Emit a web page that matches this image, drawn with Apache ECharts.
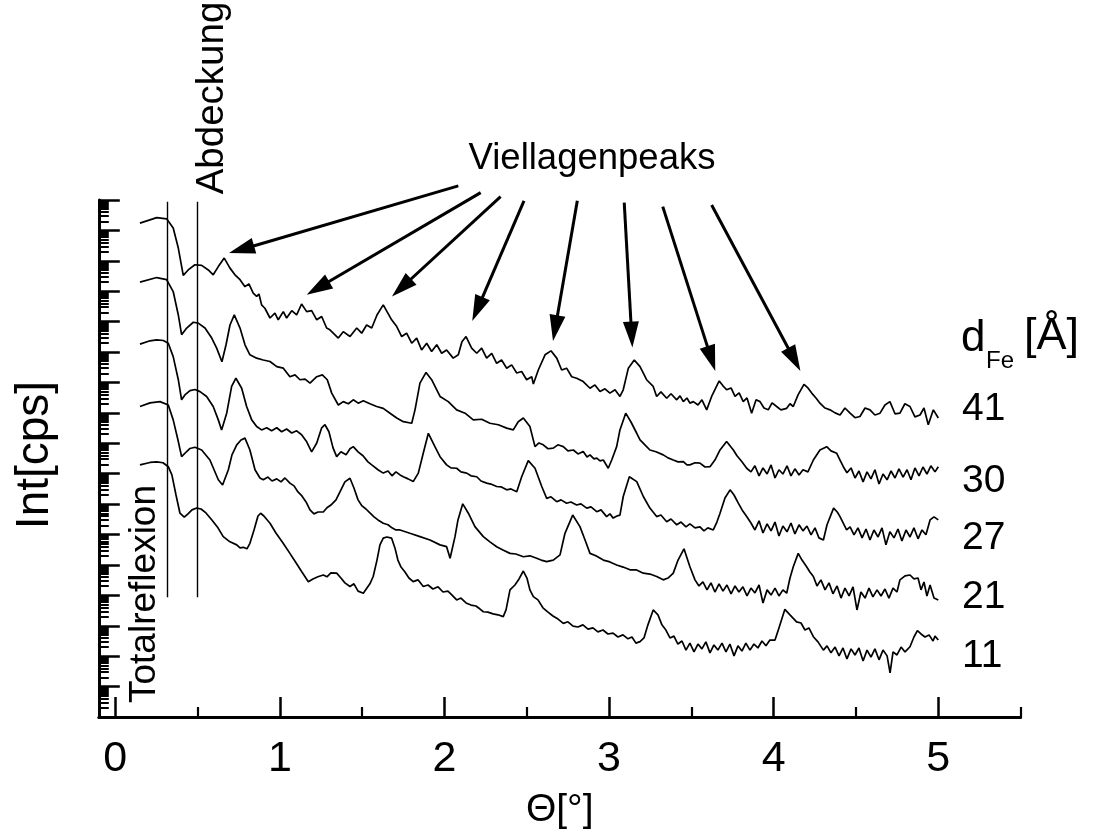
<!DOCTYPE html>
<html><head><meta charset="utf-8">
<script src="https://cdn.jsdelivr.net/npm/echarts@6/dist/echarts.min.js"></script>
<style>html,body{margin:0;padding:0;background:#fff}#c{width:1093px;height:835px}</style>
</head><body><div id="c"></div>
<script>
// x: Theta in degrees; y: log10 intensity in decades above the axis bottom (curves are offset)
const xMajorTicks = [0, 1, 2, 3, 4, 5];
const xMinorTicks = [0.5, 1.5, 2.5, 3.5, 4.5, 5.5];
const yDecades = [0,1,2,3,4,5,6,7,8,9,10,11,12,13,14,15,16,17];
const yMinorFactors = [2,3,4,5,6,7,8,9];
const curveNames = ['41', '30', '27', '21', '11'];

const d41 = [[0.150,16.24],[0.252,16.42],[0.312,16.38],[0.352,16.08],[0.383,15.42],[0.413,14.52],[0.443,14.70],[0.484,14.87],[0.525,14.85],[0.565,14.70],[0.595,14.54],[0.626,14.81],[0.662,15.09],[0.697,14.76],[0.727,14.54],[0.758,14.38],[0.788,14.15],[0.812,14.24],[0.838,13.94],[0.859,13.83],[0.873,13.91],[0.889,13.55],[0.909,13.44],[0.940,13.12],[0.970,13.28],[0.990,13.06],[1.021,13.33],[1.041,13.12],[1.072,13.36],[1.102,13.22],[1.132,13.58],[1.163,13.33],[1.193,13.36],[1.224,13.06],[1.254,13.17],[1.284,12.79],[1.304,12.73],[1.355,12.46],[1.385,12.67],[1.426,12.51],[1.467,12.79],[1.497,12.62],[1.527,12.89],[1.558,12.79],[1.590,13.22],[1.628,13.55],[1.679,13.06],[1.710,12.84],[1.740,12.51],[1.770,12.62],[1.801,12.29],[1.831,12.46],[1.861,12.07],[1.892,12.29],[1.922,12.02],[1.953,12.24],[1.983,11.96],[2.013,12.07],[2.053,11.80],[2.084,11.91],[2.106,12.34],[2.131,12.51],[2.165,12.13],[2.196,11.96],[2.226,12.13],[2.256,11.80],[2.287,11.96],[2.317,11.63],[2.347,11.74],[2.378,11.47],[2.408,11.58],[2.439,11.31],[2.469,11.36],[2.499,11.09],[2.530,11.19],[2.540,10.95],[2.570,11.41],[2.611,11.91],[2.647,12.04],[2.682,11.80],[2.712,11.41],[2.742,11.47],[2.773,11.19],[2.803,11.14],[2.843,11.03],[2.884,10.81],[2.914,10.92],[2.945,10.70],[2.975,10.79],[3.005,10.65],[3.036,10.76],[3.066,10.54],[3.086,10.76],[3.117,11.47],[3.153,11.74],[3.188,11.52],[3.228,11.09],[3.268,10.87],[3.289,10.54],[3.315,10.69],[3.350,10.48],[3.376,10.63],[3.411,10.43],[3.431,10.56],[3.451,10.37],[3.473,10.49],[3.491,10.32],[3.512,10.37],[3.540,10.26],[3.564,10.43],[3.593,10.10],[3.623,10.54],[3.669,11.05],[3.692,10.89],[3.714,10.76],[3.741,10.82],[3.765,10.54],[3.790,10.66],[3.815,10.37],[3.838,10.49],[3.866,9.99],[3.893,10.43],[3.917,10.37],[3.941,10.16],[3.967,10.10],[3.990,10.33],[4.018,10.21],[4.044,10.10],[4.079,10.15],[4.099,10.30],[4.119,10.21],[4.148,10.59],[4.184,10.94],[4.208,10.82],[4.231,10.65],[4.257,10.49],[4.281,10.32],[4.312,10.16],[4.342,10.10],[4.373,10.00],[4.403,9.93],[4.433,10.16],[4.464,9.99],[4.494,9.84],[4.524,9.88],[4.555,10.16],[4.585,10.10],[4.615,9.93],[4.646,9.99],[4.676,10.26],[4.706,10.37],[4.737,9.97],[4.767,9.99],[4.797,10.30],[4.828,10.21],[4.858,9.87],[4.889,9.93],[4.913,10.16],[4.939,9.61],[4.970,10.10],[5.000,9.83]];

const d30 = [[0.150,14.30],[0.252,14.45],[0.312,14.38],[0.352,13.99],[0.383,13.22],[0.403,12.57],[0.434,12.79],[0.474,12.98],[0.504,12.95],[0.545,12.79],[0.586,12.46],[0.616,12.13],[0.648,11.68],[0.673,12.24],[0.697,12.89],[0.723,13.22],[0.758,12.79],[0.788,12.24],[0.818,11.91],[0.859,11.80],[0.899,11.74],[0.940,11.69],[0.981,11.52],[1.021,11.47],[1.061,11.19],[1.092,11.25],[1.122,11.09],[1.153,11.11],[1.183,10.98],[1.224,11.19],[1.258,11.25],[1.288,11.09],[1.315,10.65],[1.355,10.26],[1.385,10.37],[1.416,10.30],[1.446,10.43],[1.476,10.32],[1.507,10.40],[1.547,10.30],[1.588,10.21],[1.628,10.15],[1.669,9.99],[1.710,9.83],[1.750,9.71],[1.801,9.66],[1.821,10.10],[1.851,10.98],[1.888,11.33],[1.922,11.09],[1.973,10.54],[2.023,10.37],[2.074,10.10],[2.125,9.99],[2.175,9.77],[2.226,9.79],[2.276,9.66],[2.327,9.61],[2.378,9.50],[2.418,9.44],[2.448,9.71],[2.479,9.83],[2.519,9.55],[2.550,8.89],[2.574,9.01],[2.600,8.95],[2.629,8.82],[2.661,8.84],[2.689,8.95],[2.722,8.89],[2.750,8.75],[2.783,8.78],[2.811,8.65],[2.843,8.73],[2.866,8.55],[2.884,8.62],[2.908,8.49],[2.925,8.51],[2.945,8.42],[2.965,8.45],[2.995,8.18],[3.016,8.45],[3.046,8.89],[3.066,9.44],[3.101,9.99],[3.133,9.70],[3.168,9.33],[3.188,9.11],[3.228,8.89],[3.248,8.78],[3.285,8.72],[3.329,8.62],[3.358,8.52],[3.390,8.45],[3.419,8.39],[3.451,8.40],[3.473,8.29],[3.491,8.29],[3.522,8.36],[3.552,8.35],[3.583,8.22],[3.613,8.23],[3.643,8.45],[3.674,8.78],[3.714,9.06],[3.755,8.78],[3.777,8.59],[3.806,8.40],[3.836,8.18],[3.862,8.06],[3.886,8.26],[3.911,7.93],[3.935,8.19],[3.960,7.99],[3.984,8.29],[4.008,7.86],[4.032,8.13],[4.056,7.99],[4.081,8.26],[4.105,7.93],[4.129,8.16],[4.154,7.96],[4.178,8.13],[4.208,8.06],[4.241,8.45],[4.281,8.78],[4.322,8.89],[4.348,8.75],[4.383,8.67],[4.403,8.45],[4.423,8.23],[4.445,8.03],[4.470,8.19],[4.494,7.86],[4.518,8.09],[4.543,7.73],[4.567,8.06],[4.591,7.83],[4.615,8.13],[4.640,7.66],[4.664,7.99],[4.689,7.80],[4.713,8.09],[4.737,7.86],[4.761,8.16],[4.786,7.89],[4.810,8.13],[4.834,7.80],[4.858,8.19],[4.883,7.93],[4.907,8.22],[4.931,7.99],[4.955,8.26],[4.980,8.06],[5.000,8.23]];

const d27 = [[0.150,12.26],[0.211,12.37],[0.252,12.40],[0.292,12.38],[0.322,12.29],[0.352,11.85],[0.383,11.09],[0.403,10.43],[0.423,10.59],[0.454,10.73],[0.484,10.77],[0.515,10.70],[0.555,10.54],[0.595,10.21],[0.626,9.77],[0.646,9.44],[0.677,9.99],[0.707,10.87],[0.733,11.14],[0.768,10.81],[0.798,10.21],[0.829,9.77],[0.859,9.55],[0.889,9.44],[0.920,9.51],[0.950,9.41],[0.981,9.51],[1.011,9.38],[1.041,9.47],[1.072,9.34],[1.102,9.41],[1.132,9.28],[1.163,9.05],[1.193,8.72],[1.224,9.01],[1.254,9.51],[1.274,9.61],[1.298,9.38],[1.323,8.85],[1.345,8.56],[1.371,8.72],[1.402,8.62],[1.426,8.82],[1.446,8.89],[1.475,8.72],[1.505,8.59],[1.535,8.39],[1.566,8.26],[1.596,8.13],[1.628,8.02],[1.657,8.09],[1.681,7.93],[1.705,8.06],[1.730,7.96],[1.750,7.90],[1.779,7.83],[1.810,7.74],[1.841,8.02],[1.871,8.67],[1.902,9.33],[1.942,8.89],[1.973,8.56],[2.013,8.29],[2.039,8.19],[2.074,8.18],[2.100,8.06],[2.135,8.02],[2.161,7.93],[2.196,7.90],[2.222,7.76],[2.256,7.69],[2.282,7.66],[2.317,7.58],[2.343,7.57],[2.378,7.47],[2.404,7.50],[2.439,7.41],[2.469,7.90],[2.509,8.43],[2.550,8.18],[2.591,7.58],[2.621,7.19],[2.647,7.24],[2.682,7.08],[2.708,7.14],[2.742,7.03],[2.768,7.07],[2.803,6.97],[2.829,7.01],[2.864,6.87],[2.890,6.91],[2.925,6.75],[2.951,6.81],[2.985,6.59],[3.005,6.68],[3.025,6.54],[3.048,6.61],[3.066,6.64],[3.086,7.25],[3.123,7.90],[3.168,7.74],[3.208,7.25],[3.248,6.87],[3.289,6.59],[3.315,6.64],[3.350,6.42],[3.376,6.51],[3.411,6.32],[3.437,6.41],[3.467,6.25],[3.491,6.35],[3.522,6.22],[3.552,6.25],[3.576,6.12],[3.600,6.22],[3.633,6.15],[3.655,6.41],[3.674,6.70],[3.704,7.20],[3.735,7.47],[3.759,7.30],[3.785,7.03],[3.808,6.81],[3.836,6.59],[3.862,6.38],[3.886,6.15],[3.911,6.45],[3.935,6.05],[3.960,6.35],[3.984,6.12],[4.008,6.41],[4.032,5.95],[4.056,6.28],[4.081,6.09],[4.105,6.38],[4.129,6.02],[4.154,6.32],[4.178,6.12],[4.202,6.28],[4.227,5.99],[4.251,6.22],[4.275,5.89],[4.302,5.82],[4.324,6.32],[4.364,6.87],[4.386,6.74],[4.403,6.59],[4.443,6.15],[4.464,6.25],[4.488,5.99],[4.512,6.22],[4.537,5.89],[4.561,6.18],[4.585,5.82],[4.609,6.15],[4.634,5.92],[4.658,6.22],[4.682,5.66],[4.706,6.09],[4.731,5.89],[4.755,6.18],[4.779,5.79],[4.804,6.15],[4.828,5.92],[4.852,6.22],[4.877,5.86],[4.901,6.15],[4.925,5.99],[4.950,6.48],[4.974,6.58],[5.000,6.48]];

const d21 = [[0.150,10.21],[0.211,10.33],[0.272,10.37],[0.322,10.26],[0.352,9.77],[0.381,9.11],[0.403,8.56],[0.434,8.73],[0.454,8.83],[0.484,8.87],[0.525,8.78],[0.575,8.45],[0.626,7.80],[0.652,7.63],[0.687,8.13],[0.709,8.62],[0.738,8.95],[0.764,9.11],[0.788,9.17],[0.818,8.78],[0.849,8.13],[0.879,7.86],[0.899,7.80],[0.928,7.89],[0.952,7.76],[0.981,7.83],[1.007,7.73],[1.031,7.86],[1.061,7.69],[1.086,7.60],[1.110,7.40],[1.134,7.27],[1.159,7.07],[1.183,6.81],[1.207,6.68],[1.232,6.74],[1.264,6.74],[1.286,6.88],[1.310,6.97],[1.341,7.14],[1.365,7.40],[1.395,7.73],[1.426,7.85],[1.450,7.53],[1.475,7.14],[1.499,6.94],[1.523,6.84],[1.547,6.71],[1.572,6.58],[1.596,6.48],[1.628,6.37],[1.657,6.32],[1.681,6.22],[1.705,6.15],[1.730,6.15],[1.790,6.04],[1.851,5.93],[1.912,5.82],[1.973,5.66],[2.013,5.60],[2.034,5.22],[2.064,5.93],[2.082,6.48],[2.111,7.01],[2.145,6.70],[2.185,6.26],[2.236,5.93],[2.276,5.76],[2.317,5.60],[2.355,5.49],[2.398,5.38],[2.434,5.36],[2.479,5.27],[2.519,5.30],[2.560,5.22],[2.587,5.16],[2.621,5.11],[2.661,5.16],[2.702,5.33],[2.732,6.04],[2.779,6.64],[2.823,6.26],[2.854,5.82],[2.884,5.38],[2.920,5.30],[2.965,5.16],[3.005,5.10],[3.046,5.00],[3.085,4.93],[3.127,4.84],[3.164,4.84],[3.208,4.73],[3.248,4.70],[3.289,4.62],[3.329,4.51],[3.358,4.57],[3.390,4.73],[3.419,5.16],[3.455,5.53],[3.491,4.94],[3.522,4.51],[3.546,4.31],[3.570,4.44],[3.595,4.18],[3.619,4.41],[3.643,4.11],[3.668,4.38],[3.692,4.14],[3.716,4.34],[3.741,4.05],[3.765,4.31],[3.789,4.11],[3.813,4.28],[3.838,3.98],[3.862,4.24],[3.886,4.08],[3.911,4.34],[3.935,3.75],[3.960,4.18],[3.984,4.01],[4.008,4.24],[4.032,3.98],[4.056,4.18],[4.079,4.07],[4.099,4.57],[4.119,4.94],[4.149,5.38],[4.172,5.16],[4.200,4.94],[4.220,4.77],[4.241,4.62],[4.263,4.31],[4.287,4.51],[4.312,4.18],[4.336,4.41],[4.360,4.05],[4.385,4.31],[4.409,3.91],[4.433,4.24],[4.458,3.98],[4.482,4.28],[4.506,3.52],[4.530,4.11],[4.555,3.91],[4.579,4.24],[4.603,3.95],[4.628,4.18],[4.652,3.98],[4.676,4.21],[4.700,3.91],[4.725,4.24],[4.749,4.11],[4.767,4.51],[4.798,4.64],[4.828,4.67],[4.852,4.54],[4.877,4.57],[4.895,4.18],[4.913,4.44],[4.931,3.98],[4.950,4.34],[4.974,3.91],[5.000,3.85]];

const d11 = [[0.150,8.29],[0.211,8.37],[0.252,8.39],[0.290,8.36],[0.322,8.23],[0.344,7.96],[0.369,7.30],[0.393,6.70],[0.419,6.57],[0.442,6.68],[0.466,6.81],[0.495,6.87],[0.521,6.84],[0.551,6.71],[0.587,6.48],[0.624,6.22],[0.656,5.93],[0.697,5.76],[0.738,5.66],[0.758,5.56],[0.778,5.58],[0.800,5.53],[0.818,5.71],[0.843,6.15],[0.867,6.61],[0.883,6.70],[0.903,6.61],[0.940,6.37],[0.976,6.05],[1.019,5.72],[1.061,5.38],[1.098,5.07],[1.134,4.77],[1.173,4.45],[1.201,4.54],[1.231,4.61],[1.264,4.67],[1.286,4.61],[1.310,4.74],[1.345,4.73],[1.371,4.57],[1.395,4.41],[1.426,4.29],[1.450,4.38],[1.475,4.14],[1.507,4.07],[1.529,4.24],[1.547,4.38],[1.567,4.62],[1.590,5.16],[1.608,5.66],[1.628,5.88],[1.650,5.92],[1.679,5.88],[1.699,5.56],[1.717,5.16],[1.736,4.93],[1.760,4.77],[1.784,4.57],[1.810,4.45],[1.839,4.51],[1.871,4.29],[1.900,4.34],[1.930,4.21],[1.961,4.28],[1.991,4.11],[2.021,4.14],[2.046,4.01],[2.074,3.85],[2.100,3.91],[2.131,3.75],[2.161,3.68],[2.191,3.65],[2.216,3.55],[2.236,3.46],[2.264,3.45],[2.295,3.39],[2.325,3.36],[2.357,3.30],[2.374,3.52],[2.398,4.18],[2.428,4.34],[2.453,4.54],[2.479,4.80],[2.501,4.57],[2.519,4.18],[2.540,3.96],[2.568,3.85],[2.598,3.59],[2.629,3.45],[2.659,3.32],[2.690,3.22],[2.722,3.08],[2.750,3.13],[2.781,2.99],[2.811,2.96],[2.841,3.03],[2.872,2.89],[2.902,2.93],[2.932,2.80],[2.963,2.86],[2.993,2.73],[3.024,2.76],[3.054,2.63],[3.084,2.70],[3.115,2.57],[3.139,2.63],[3.163,2.43],[3.188,2.48],[3.212,2.60],[3.236,3.03],[3.268,3.52],[3.297,3.36],[3.321,3.03],[3.345,2.86],[3.370,2.60],[3.394,2.66],[3.418,2.40],[3.443,2.50],[3.467,2.20],[3.491,2.43],[3.516,2.14],[3.540,2.40],[3.564,2.24],[3.588,2.47],[3.613,2.11],[3.637,2.37],[3.661,2.20],[3.686,2.43],[3.710,2.14],[3.734,2.40],[3.759,2.01],[3.783,2.34],[3.807,2.17],[3.831,2.43],[3.856,2.20],[3.880,2.40],[3.904,2.27],[3.929,2.50],[3.953,2.34],[3.977,2.53],[4.008,2.53],[4.032,2.93],[4.068,3.54],[4.099,3.36],[4.139,3.13],[4.166,3.09],[4.190,2.86],[4.214,2.93],[4.241,2.64],[4.269,2.47],[4.302,2.20],[4.324,2.34],[4.348,2.11],[4.373,2.30],[4.397,2.01],[4.421,2.27],[4.445,1.91],[4.470,2.24],[4.494,2.04],[4.518,2.27],[4.543,1.84],[4.567,2.20],[4.591,1.97],[4.615,2.24],[4.640,1.88],[4.664,2.20],[4.689,2.01],[4.707,1.45],[4.725,2.14],[4.749,2.04],[4.774,2.30],[4.798,2.14],[4.828,2.31],[4.852,2.63],[4.873,2.84],[4.895,2.73],[4.919,2.63],[4.944,2.70],[4.968,2.50],[4.980,2.66],[5.000,2.53]];

const curves = [d41, d30, d27, d21, d11];

// annotation guides (same units; arrow tails may sit above the plot top, so they live in an overlay frame)
const guideX = [0.318, 0.500];
const guideY = [3.94, 16.95];
const arrowFrom = [[2.084,17.47],[2.220,17.25],[2.341,17.12],[2.483,16.98],[2.807,16.98],[3.092,16.92],[3.326,16.79],[3.623,16.84]];
const arrowTo   = [[0.767,15.38],[1.231,14.11],[1.739,14.12],[2.200,13.42],[2.673,12.79],[3.137,12.58],[3.621,11.79],[4.125,11.76]];

const FONT = "'Liberation Sans', Arial, Helvetica, sans-serif";
const yMinorTicks = [];
yDecades.slice(0, -1).forEach(n => yMinorFactors.forEach(k => yMinorTicks.push(n + Math.log10(k))));

const G = {left: 98.8, right: 72.4, top: 200, bottom: 118};
const X_RANGE = {min: -0.1, max: 5.5};
const Y_RANGE = {min: 0, max: 17};
const chart = echarts.init(document.getElementById('c'), null, {renderer: 'canvas'});

const lineSeries = curves.map((d, i) => ({
  name: curveNames[i], type: 'line', xAxisIndex: 0, yAxisIndex: 0,
  data: d, showSymbol: false, symbol: 'none', silent: true,
  lineStyle: {color: '#000', width: 1.7}, z: 3
}));

const guideSeries = {
  type: 'line', xAxisIndex: 4, yAxisIndex: 4, data: [], silent: true,
  markLine: {
    silent: true, symbol: ['none', 'none'], animation: false,
    label: {show: false},
    lineStyle: {color: '#000', width: 1.4, type: 'solid'},
    emphasis: {disabled: true},
    data: guideX.map(x => [{coord: [x, guideY[0]]}, {coord: [x, guideY[1]]}])
  }
};
const arrowSeries = {
  type: 'line', xAxisIndex: 4, yAxisIndex: 4, data: [], silent: true,
  markLine: {
    silent: true, symbol: ['none', 'triangle'], symbolSize: [16, 26], animation: false,
    label: {show: false},
    lineStyle: {color: '#000', width: 3, type: 'solid'},
    itemStyle: {color: '#000'},
    emphasis: {disabled: true},
    data: arrowFrom.map((p, i) => [{coord: p}, {coord: arrowTo[i]}])
  }
};

const txt = (text, x, y, size, rot, align) => ({
  type: 'text', x, y, rotation: rot || 0, silent: true,
  style: {text, fontSize: size, fontFamily: FONT, fill: '#000', align: align || 'center', verticalAlign: 'middle'}
});

const hiddenX = (g) => Object.assign({gridIndex: g, type: 'value', show: false}, X_RANGE);
const hiddenY = (g) => Object.assign({gridIndex: g, type: 'value', show: false}, Y_RANGE);

chart.setOption({
  animation: false,
  backgroundColor: '#fff',
  grid: [Object.assign({}, G), Object.assign({}, G), Object.assign({}, G), Object.assign({}, G),
         {left: G.left, right: G.right, top: 0, bottom: G.bottom}],
  xAxis: [
    hiddenX(0),
    // axis line + major ticks
    Object.assign({gridIndex: 1, type: 'value',
     axisLine: {show: true, onZero: false, lineStyle: {color: '#000', width: 3}},
     axisTick: {show: true, customValues: xMajorTicks, inside: true, length: 20, lineStyle: {color: '#000', width: 2.5}},
     axisLabel: {show: false}, splitLine: {show: false}}, X_RANGE),
    // minor ticks
    Object.assign({gridIndex: 2, type: 'value',
     axisLine: {show: false, onZero: false},
     axisTick: {show: true, customValues: xMinorTicks, inside: true, length: 10, lineStyle: {color: '#000', width: 2.2}},
     axisLabel: {show: false}, splitLine: {show: false}}, X_RANGE),
    // tick labels + title
    Object.assign({gridIndex: 3, type: 'value',
     axisLine: {show: false, onZero: false}, axisTick: {show: false},
     axisLabel: {customValues: xMajorTicks, fontSize: 43, color: '#000', fontFamily: FONT, margin: 28},
     splitLine: {show: false},
     name: 'Θ[°]', nameLocation: 'middle', nameGap: 81,
     nameTextStyle: {fontSize: 39, color: '#000', fontFamily: FONT}}, X_RANGE),
    {gridIndex: 4, type: 'value', min: X_RANGE.min, max: X_RANGE.max, show: false}
  ],
  yAxis: [
    hiddenY(0),
    Object.assign({gridIndex: 1, type: 'value',
     axisLine: {show: true, onZero: false, lineStyle: {color: '#000', width: 3}},
     axisTick: {show: true, customValues: yDecades, inside: true, length: 21, lineStyle: {color: '#000', width: 2.5}},
     axisLabel: {show: false}, splitLine: {show: false}}, Y_RANGE),
    Object.assign({gridIndex: 2, type: 'value',
     axisLine: {show: false, onZero: false},
     axisTick: {show: true, customValues: yMinorTicks, inside: true, length: 10, lineStyle: {color: '#000', width: 2}},
     axisLabel: {show: false}, splitLine: {show: false}}, Y_RANGE),
    Object.assign({gridIndex: 3, type: 'value',
     axisLine: {show: false, onZero: false}, axisTick: {show: false},
     axisLabel: {show: false}, splitLine: {show: false},
     name: 'Int[cps]', nameLocation: 'middle', nameGap: 40, nameRotate: 90,
     nameTextStyle: {fontSize: 46, color: '#000', fontFamily: FONT}}, Y_RANGE),
    {gridIndex: 4, type: 'value', min: 0, max: 717 / 30.4, show: false}
  ],
  graphic: [
    txt('Viellagenpeaks', 592, 159, 36.5),
    txt('Abdeckung', 212, 98, 38.5, Math.PI / 2),
    txt('Totalreflexion', 145, 594, 37, Math.PI / 2),
    txt('d', 961, 339, 44, 0, 'left'),
    txt('Fe', 986, 361, 24, 0, 'left'),
    txt('[Å]', 1024, 337, 45, 0, 'left'),
    txt(curveNames[0], 962, 409, 39, 0, 'left'),
    txt(curveNames[1], 962, 481, 39, 0, 'left'),
    txt(curveNames[2], 962, 538, 39, 0, 'left'),
    txt(curveNames[3], 962, 597, 39, 0, 'left'),
    txt(curveNames[4], 962, 656, 39, 0, 'left')
  ],
  series: lineSeries.concat([guideSeries, arrowSeries])
});
</script>
</body></html>
